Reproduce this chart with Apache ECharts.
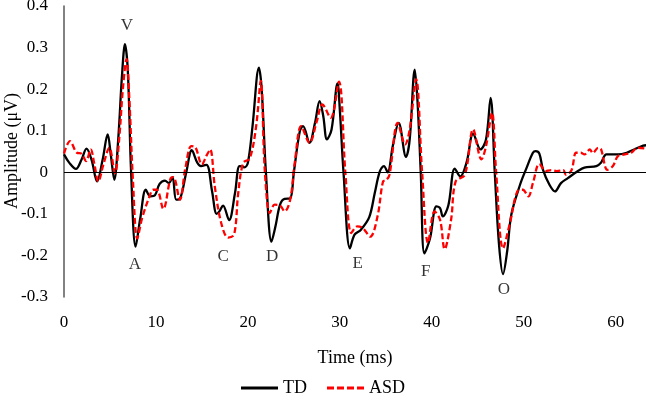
<!DOCTYPE html>
<html><head><meta charset="utf-8">
<script src="https://cdn.jsdelivr.net/npm/echarts@6/dist/echarts.min.js"></script>
<style>html,body{margin:0;padding:0;background:#fff}#c{width:646px;height:402px}</style>
</head><body><div id="c"></div>
<script>
const tdTime = [0.0,0.6,1.3,1.9,2.45,3.0,3.6,4.2,4.75,5.1,5.47,5.9,6.3,6.63,6.95,7.3,7.79,8.3,8.9,9.4,9.9,10.4,10.98,11.4,11.8,12.2,12.6,13.3,13.9,14.5,14.9,15.5,16.1,16.6,16.9,17.3,17.95,18.6,19.1,19.6,20.0,20.5,21.2,21.5,21.96,22.57,23.0,23.5,24.0,24.6,25.0,25.65,26.0,26.7,27.3,27.8,28.2,28.6,29.1,29.75,30.0,30.4,31.1,31.6,32.3,33.2,33.8,34.35,34.8,35.2,35.76,36.4,37.2,37.6,38.15,38.45,38.8,39.2,39.8,40.5,40.9,41.2,41.8,42.5,43.1,43.8,44.5,45.3,45.9,46.4,46.85,47.3,47.75,48.2,48.65,49.6,50.3,51.0,51.3,51.7,52.1,52.8,53.4,54.05,54.8,55.9,56.6,57.9,58.4,59.0,60.25,61.2,62.1,63.0,63.3];
const tdAmp = [0.043,0.022,0.008,0.030,0.057,0.030,-0.022,0.030,0.091,0.040,-0.018,0.080,0.230,0.308,0.240,0.000,-0.179,-0.110,-0.042,-0.058,-0.055,-0.028,-0.020,-0.026,-0.012,-0.066,-0.064,0.000,0.053,0.023,0.015,0.018,-0.045,-0.100,-0.094,-0.080,-0.115,-0.050,0.015,0.012,0.023,0.110,0.252,0.200,0.000,-0.167,-0.130,-0.078,-0.064,-0.063,0.000,0.099,0.111,0.071,0.119,0.171,0.135,0.079,0.103,0.214,0.150,0.000,-0.183,-0.150,-0.138,-0.108,-0.050,0.002,0.015,0.000,0.063,0.119,0.037,0.079,0.247,0.170,0.000,-0.195,-0.160,-0.082,-0.086,-0.106,-0.080,0.009,-0.010,0.025,0.093,0.055,0.079,0.179,0.000,-0.170,-0.245,-0.190,-0.102,-0.030,0.010,0.047,0.051,0.045,0.006,-0.030,-0.046,-0.026,-0.014,0.003,0.011,0.015,0.023,0.043,0.043,0.047,0.056,0.064,0.065];
const asdTime = [0.0,0.65,1.4,1.9,2.4,2.9,3.3,3.73,4.3,4.93,5.54,6.0,6.4,6.8,7.1,7.5,7.97,8.5,9.3,9.7,10.1,10.8,11.6,11.9,12.6,13.2,13.85,14.3,15.0,15.5,15.9,16.4,17.1,17.85,18.5,18.95,19.5,20.2,20.9,21.4,21.85,22.4,22.9,23.5,24.0,24.6,25.1,25.8,26.7,27.5,28.1,29.0,29.9,30.6,31.25,31.9,32.5,33.3,34.1,34.7,35.0,35.4,36.3,37.1,37.6,38.3,38.95,39.6,40.3,40.9,41.4,42.1,42.6,43.6,44.5,45.4,45.9,46.55,47.0,47.75,48.5,49.3,49.9,50.5,51.0,51.7,52.4,53.0,53.6,54.3,54.6,55.2,55.7,56.2,56.6,57.2,57.5,58.1,58.4,59.1,59.7,60.25,61.0,61.7,62.4,63.3];
const asdAmp = [0.045,0.075,0.047,0.045,0.027,0.055,0.020,-0.022,0.020,0.059,-0.002,0.080,0.200,0.272,0.180,-0.020,-0.159,-0.110,-0.058,-0.042,-0.042,-0.088,-0.014,-0.012,-0.066,0.010,0.063,0.060,0.019,0.040,0.055,-0.034,-0.122,-0.157,-0.150,-0.050,0.023,0.033,0.111,0.220,0.000,-0.098,-0.078,-0.080,-0.094,-0.066,0.023,0.111,0.071,0.123,0.163,0.131,0.218,0.000,-0.146,-0.130,-0.134,-0.155,-0.106,-0.022,-0.020,-0.006,0.119,0.067,0.103,0.224,0.000,-0.170,-0.094,-0.114,-0.185,-0.114,-0.022,-0.006,0.103,0.031,0.063,0.143,0.000,-0.183,-0.122,-0.046,-0.042,-0.058,-0.026,0.020,0.003,0.005,0.003,0.005,-0.006,0.005,0.047,0.047,0.043,0.055,0.046,0.059,0.056,0.006,0.015,0.039,0.043,0.047,0.059,0.057];
const peakNames = ['V','A','C','D','E','F','O'];
const peakTime = [6.85,7.72,17.3,22.65,31.93,39.35,47.83];
const peakAmp = [0.353,-0.223,-0.203,-0.203,-0.219,-0.239,-0.282];
const yTicks = ['0.4','0.3','0.2','0.1','0','-0.1','-0.2','-0.3'];

const font = 'Liberation Serif';
const zip = (a,b) => a.map((t,i) => [t,b[i]]);
const chart = echarts.init(document.getElementById('c'));
chart.setOption({
  animation:false,
  backgroundColor:'#fff',
  textStyle:{fontFamily:font},
  grid:{left:64,right:0,top:6,bottom:105,containLabel:false,outerBoundsMode:'none'},
  graphic:[{
    type:'text', x:12, y:151, rotation:Math.PI/2, silent:true,
    style:{text:'Amplitude (μV)', font:'18px "Liberation Serif"', fill:'#000', align:'center', verticalAlign:'middle'}
  }],
  legend:{
    data:[
      {name:'TD', icon:'rect'},
      {name:'ASD', icon:'path://M0,0h7v3h-7z M10,0h7v3h-7z M20,0h7v3h-7z M30,0h7v3h-7z'}
    ],
    top:374, left:'center', itemWidth:37, itemHeight:3, itemGap:20,
    textStyle:{fontFamily:font,fontSize:18,color:'#000',padding:[0,0,0,0]}
  },
  xAxis:{
    type:'value', min:0, max:63.3, interval:10,
    name:'Time (ms)', nameLocation:'middle', nameGap:52,
    nameTextStyle:{fontFamily:font,fontSize:18,color:'#000'},
    axisLine:{show:false}, axisTick:{show:false}, splitLine:{show:false},
    axisLabel:{margin:17,fontFamily:font,fontSize:17,color:'#000',showMaxLabel:false,
      formatter:v => (Math.abs(v%10)<1e-6 ? String(Math.round(v)) : '')}
  },
  yAxis:{
    type:'value', min:-0.3, max:0.4, interval:0.1,
    axisLine:{show:true,lineStyle:{color:'#595959',width:1.5}},
    axisTick:{show:false}, splitLine:{show:false},
    axisLabel:{margin:16,fontFamily:font,fontSize:17,color:'#000',
      formatter:v => { const i = Math.round((0.4 - v)/0.1); return yTicks[i] !== undefined ? yTicks[i] : ''; }}
  },
  series:[
    {name:'TD', type:'line', data:zip(tdTime,tdAmp), showSymbol:false, symbol:'none',
     smooth:0.35, lineStyle:{color:'#000',width:2.3}, itemStyle:{color:'#000'}, z:3,
     markLine:{silent:true, symbol:'none', label:{show:false},
       lineStyle:{color:'#000',width:1,type:'solid'}, data:[{yAxis:0}]}},
    {name:'ASD', type:'line', data:zip(asdTime,asdAmp), showSymbol:false, symbol:'none',
     smooth:0.35, lineStyle:{color:'#ff0000',width:2.3,type:[6,3]}, itemStyle:{color:'#ff0000'}, z:4},
    {name:'peaks', type:'scatter', symbolSize:1, itemStyle:{color:'rgba(0,0,0,0)'}, silent:true, z:5,
     data:peakNames.map((n,i) => ({name:n, value:[peakTime[i],peakAmp[i]]})),
     label:{show:true, position:'inside', formatter:p => p.name, fontFamily:font, fontSize:17, color:'#000'}}
  ]
});
</script></body></html>
